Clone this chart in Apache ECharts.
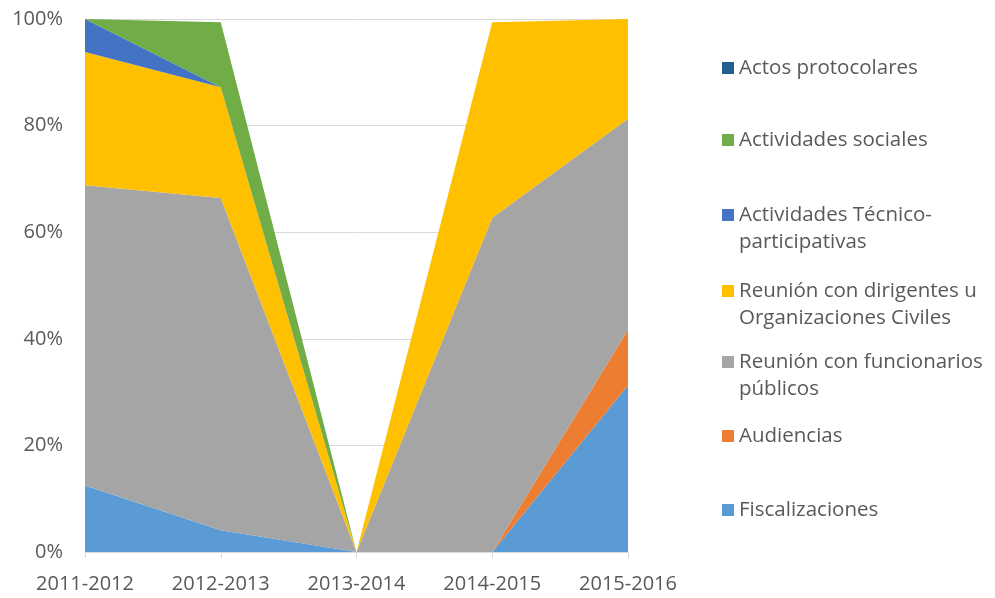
<!DOCTYPE html>
<html>
<head>
<meta charset="utf-8">
<script src="https://cdn.jsdelivr.net/npm/echarts@6/dist/echarts.min.js"></script>
<style>
  html, body { margin: 0; padding: 0; background: #fff; }
  #chart { width: 995px; height: 598px; }
</style>
</head>
<body>
<div id="chart"></div>
<script>
// datos (porcentaje por periodo)
var categories = ['2011-2012', '2012-2013', '2013-2014', '2014-2015', '2015-2016'];
var fiscalizaciones = [12.5, 4.1, 0, 0, 31.3];
var audiencias = [0, 0, 0, 0, 10.4];
var funcionarios = [56.3, 62.3, 0, 62.7, 39.6];
var dirigentes = [25.0, 20.8, 0, 36.7, 18.7];
var tecnico = [6.2, 0, 0, 0, 0];
var sociales = [0, 12.2, 0, 0, 0];
var actos = [0, 0, 0, 0, 0];
var yTicks = [0, 20, 40, 60, 80, 100];

var seriesDefs = [
  { name: 'Fiscalizaciones', data: fiscalizaciones, color: '#5B9BD5' },
  { name: 'Audiencias', data: audiencias, color: '#ED7D31' },
  { name: 'Reunión con funcionarios públicos', data: funcionarios, color: '#A5A5A5' },
  { name: 'Reunión con dirigentes u Organizaciones Civiles', data: dirigentes, color: '#FFC000' },
  { name: 'Actividades Técnico-participativas', data: tecnico, color: '#4472C4' },
  { name: 'Actividades sociales', data: sociales, color: '#70AD47' },
  { name: 'Actos protocolares', data: actos, color: '#255E91' }
];

// texto de la leyenda en dos lineas (linea vacia arriba para alinear el icono con la primera)
var legendText = {
  'Reunión con funcionarios públicos': ' \nReunión con funcionarios\npúblicos',
  'Reunión con dirigentes u Organizaciones Civiles': ' \nReunión con dirigentes u\nOrganizaciones Civiles',
  'Actividades Técnico-participativas': ' \nActividades Técnico-\nparticipativas'
};
// centro de la primera linea de cada item
var legendY = {
  'Actos protocolares': 68,
  'Actividades sociales': 140,
  'Actividades Técnico-participativas': 215,
  'Reunión con dirigentes u Organizaciones Civiles': 291,
  'Reunión con funcionarios públicos': 362,
  'Audiencias': 436,
  'Fiscalizaciones': 510
};

var legends = seriesDefs.map(function (s) {
  var twoLines = !!legendText[s.name];
  return {
    data: [s.name],
    left: 722,
    top: twoLines ? legendY[s.name] - 40.5 : legendY[s.name] - 13.5,
    orient: 'vertical',
    padding: 0,
    itemGap: 0,
    itemWidth: 12,
    itemHeight: 12,
    icon: 'rect',
    formatter: function (n) { return legendText[n] || n; },
    textStyle: {
      fontFamily: 'Open Sans',
      fontSize: 20.5,
      color: '#595959',
      lineHeight: 27
    }
  };
});

var chart = echarts.init(document.getElementById('chart'));
chart.setOption({
  animation: false,
  color: seriesDefs.map(function (s) { return s.color; }),
  legend: legends,
  grid: { left: 85, right: 367, top: 19, bottom: 46, containLabel: false },
  xAxis: {
    type: 'category',
    data: categories,
    boundaryGap: false,
    axisLine: { lineStyle: { color: '#D9D9D9', width: 1 } },
    axisTick: { show: true, length: 6, alignWithLabel: true, lineStyle: { color: '#D9D9D9' } },
    axisLabel: { color: '#595959', fontFamily: 'Open Sans', fontSize: 20, margin: 22 },
    splitLine: { show: false }
  },
  yAxis: {
    type: 'value',
    min: yTicks[0],
    max: yTicks[yTicks.length - 1],
    interval: 20,
    axisLine: { show: false },
    axisTick: { show: false },
    axisLabel: { color: '#595959', fontFamily: 'Open Sans', fontSize: 20, margin: 22, formatter: '{value}%' },
    splitLine: { lineStyle: { color: '#D9D9D9', width: 1 } }
  },
  series: seriesDefs.map(function (s) {
    return {
      name: s.name,
      type: 'line',
      stack: 'total',
      data: s.data,
      showSymbol: false,
      symbol: 'none',
      lineStyle: { width: 0 },
      areaStyle: { color: s.color, opacity: 1 },
      itemStyle: { color: s.color }
    };
  })
});
</script>
</body>
</html>
